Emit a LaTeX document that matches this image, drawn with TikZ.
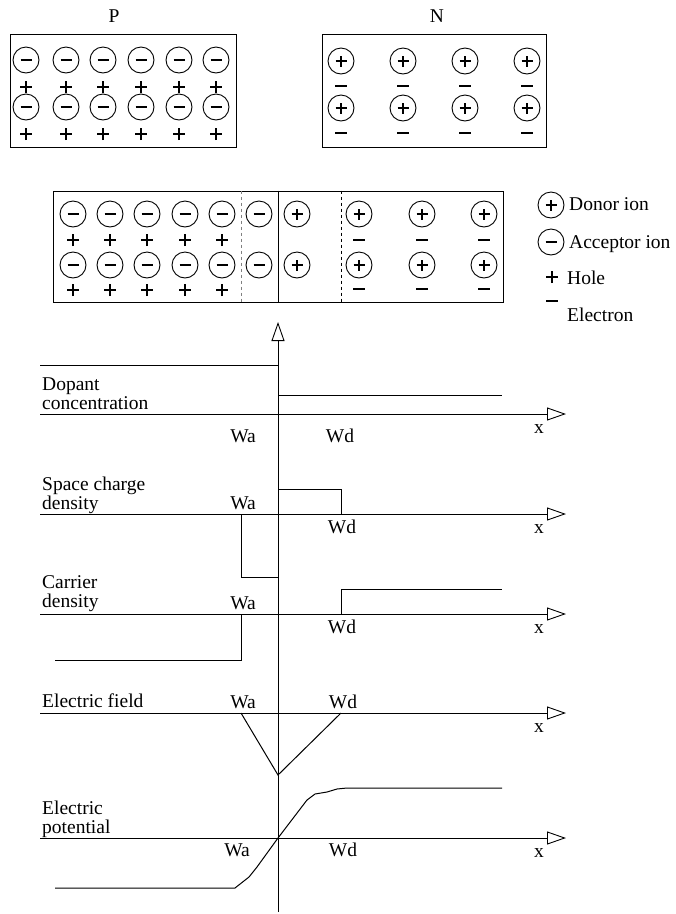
\documentclass[tikz,border=0pt]{standalone}
\usepackage{fontspec}
\setmainfont{Liberation Serif}
\usetikzlibrary{arrows.meta}

\begin{document}
\begin{tikzpicture}[
    x=1pt,y=-1pt,
    font=\fontsize{19.5}{19}\selectfont,
    box/.style={draw,line width=1pt,inner sep=0pt},
    ion/.style={circle,draw,line width=0.9pt,minimum size=26pt,inner sep=0pt},
    donor/.style={ion,path picture={\draw[line width=2.6pt]
        ([xshift=-5.5pt]path picture bounding box.center) -- ++(11pt,0)
        ([yshift=-5.5pt]path picture bounding box.center) -- ++(0,11pt);}},
    acceptor/.style={ion,path picture={\draw[line width=2.6pt]
        ([xshift=-5.5pt]path picture bounding box.center) -- ++(11pt,0);}},
    hole/.style={minimum size=13pt,inner sep=0pt,path picture={\draw[line width=2.6pt]
        ([xshift=-6pt]path picture bounding box.center) -- ++(12pt,0)
        ([yshift=-6pt]path picture bounding box.center) -- ++(0,12pt);}},
    electron/.style={minimum size=13pt,inner sep=0pt,path picture={\draw[line width=2.8pt]
        ([xshift=-6pt]path picture bounding box.center) -- ++(12pt,0);}},
    lbl/.style={anchor=base west,align=left,inner sep=0pt},
    axis/.style={line width=0.9pt,-{Triangle[open,length=19pt,width=13pt]}},
    curve/.style={line width=1pt},
    >=stealth
]
\useasboundingbox (0,0) rectangle (676,914);

% P and N blocks apart
\node[box,minimum width=226pt,minimum height=113pt] (pbox) at (123,90.5) {};
\node (ptitle) at (114,16) {P};
\foreach \x [count=\i] in {26,66,103,141,179,216}{
  \foreach \y [count=\j] in {60,107}{
    \node[acceptor] (pa-\i-\j) at (\x,\y) {};
    \node[hole] (ph-\i-\j) at (\x,\y+27) {};
  }
}
\node[box,minimum width=224pt,minimum height=113pt] (nbox) at (434,90.5) {};
\node (ntitle) at (437,16) {N};
\foreach \x [count=\i] in {341,403,465,527}{
  \foreach \y [count=\j] in {61,108}{
    \node[donor] (nd-\i-\j) at (\x,\y) {};
    \node[electron] (ne-\i-\j) at (\x,\y+25) {};
  }
}

% junction
\node[box,minimum width=450pt,minimum height=111pt] (jbox) at (278,246.5) {};
\draw[line width=1pt] (jbox.north) -- (jbox.south);
\draw[dashed,gray,line width=0.8pt] (241,0 |- jbox.north) -- (241,0 |- jbox.south);
\draw[dashed,line width=0.8pt] (341,0 |- jbox.north) -- (341,0 |- jbox.south);
\foreach \x [count=\i] in {73,110,147,185,222,259}{
  \foreach \y [count=\j] in {214,265}{
    \node[acceptor] (ja-\i-\j) at (\x,\y) {};
  }
}
\foreach \x [count=\i] in {73,110,147,185,222}{
  \foreach \y [count=\j] in {240,290}{
    \node[hole] (jh-\i-\j) at (\x,\y) {};
  }
}
\foreach \x [count=\i] in {297,359,422,484}{
  \foreach \y [count=\j] in {214,265}{
    \node[donor] (jd-\i-\j) at (\x,\y) {};
  }
}
\foreach \x [count=\i] in {359,422,484}{
  \foreach \y [count=\j] in {240,289}{
    \node[electron] (je-\i-\j) at (\x,\y) {};
  }
}

% key
\node[donor] (kdonor) at (551,205) {};
\node[lbl] (tdonor) at (569,210) {Donor ion};
\node[acceptor] (kacceptor) at (551,242) {};
\node[lbl] (tacceptor) at (569,248) {Acceptor ion};
\node[hole] (khole) at (552,277) {};
\node[lbl] (thole) at (567,284) {Hole};
\node[electron] (kelectron) at (552,301) {};
\node[lbl] (telectron) at (567,321) {Electron};

% axes
\coordinate (vbot) at (278,912);
\coordinate (vtop) at (278,322);
\draw[axis] (vbot) -- (vtop);
\foreach \y [count=\k] in {414,514,614,713,838}{
  \coordinate (o\k) at (40,\y);
  \coordinate (e\k) at (566,\y);
  \draw[axis] (o\k) -- (e\k);
  \node (x\k) at (539,\y+15) {x};
}

% dopant concentration
\node[lbl] (dopant) at (42,409) {Dopant\\concentration};
\node (wa1) at (243,436) {Wa};
\node (wd1) at (340,436) {Wd};
\draw[curve] (40,365) -- (278,365);
\draw[curve] (278,395) -- (502,395);

% space charge density
\node[lbl] (space) at (42,509) {Space charge\\density};
\node (wa2) at (243,503) {Wa};
\node (wd2) at (342,527) {Wd};
\draw[curve] (278,489) -- (341,489) -- (341,514);
\draw[curve] (241,514) -- (241,577) -- (278,577);

% carrier density
\node[lbl] (carrier) at (42,607) {Carrier\\density};
\node (wa3) at (243,603) {Wa};
\node (wd3) at (342,627) {Wd};
\draw[curve] (55,660) -- (241,660) -- (241,614);
\draw[curve] (341,614) -- (341,589) -- (502,589);

% electric field
\node[lbl] (field) at (42,707) {Electric field};
\node (wa4) at (243,702) {Wa};
\node (wd4) at (343,702) {Wd};
\draw[curve] (241,713) -- (278,775) -- (341,713);

% electric potential
\node[lbl] (potential) at (42,833) {Electric\\potential};
\node (wa5) at (237,850) {Wa};
\node (wd5) at (343,850) {Wd};
\draw[curve] (55,888) -- (235,888) -- (249,877) -- (257,867) -- (278,838)
  -- (307,800) -- (315,794) -- (327,792) -- (337,789) -- (347,788) -- (502,788);
\end{tikzpicture}
\end{document}
